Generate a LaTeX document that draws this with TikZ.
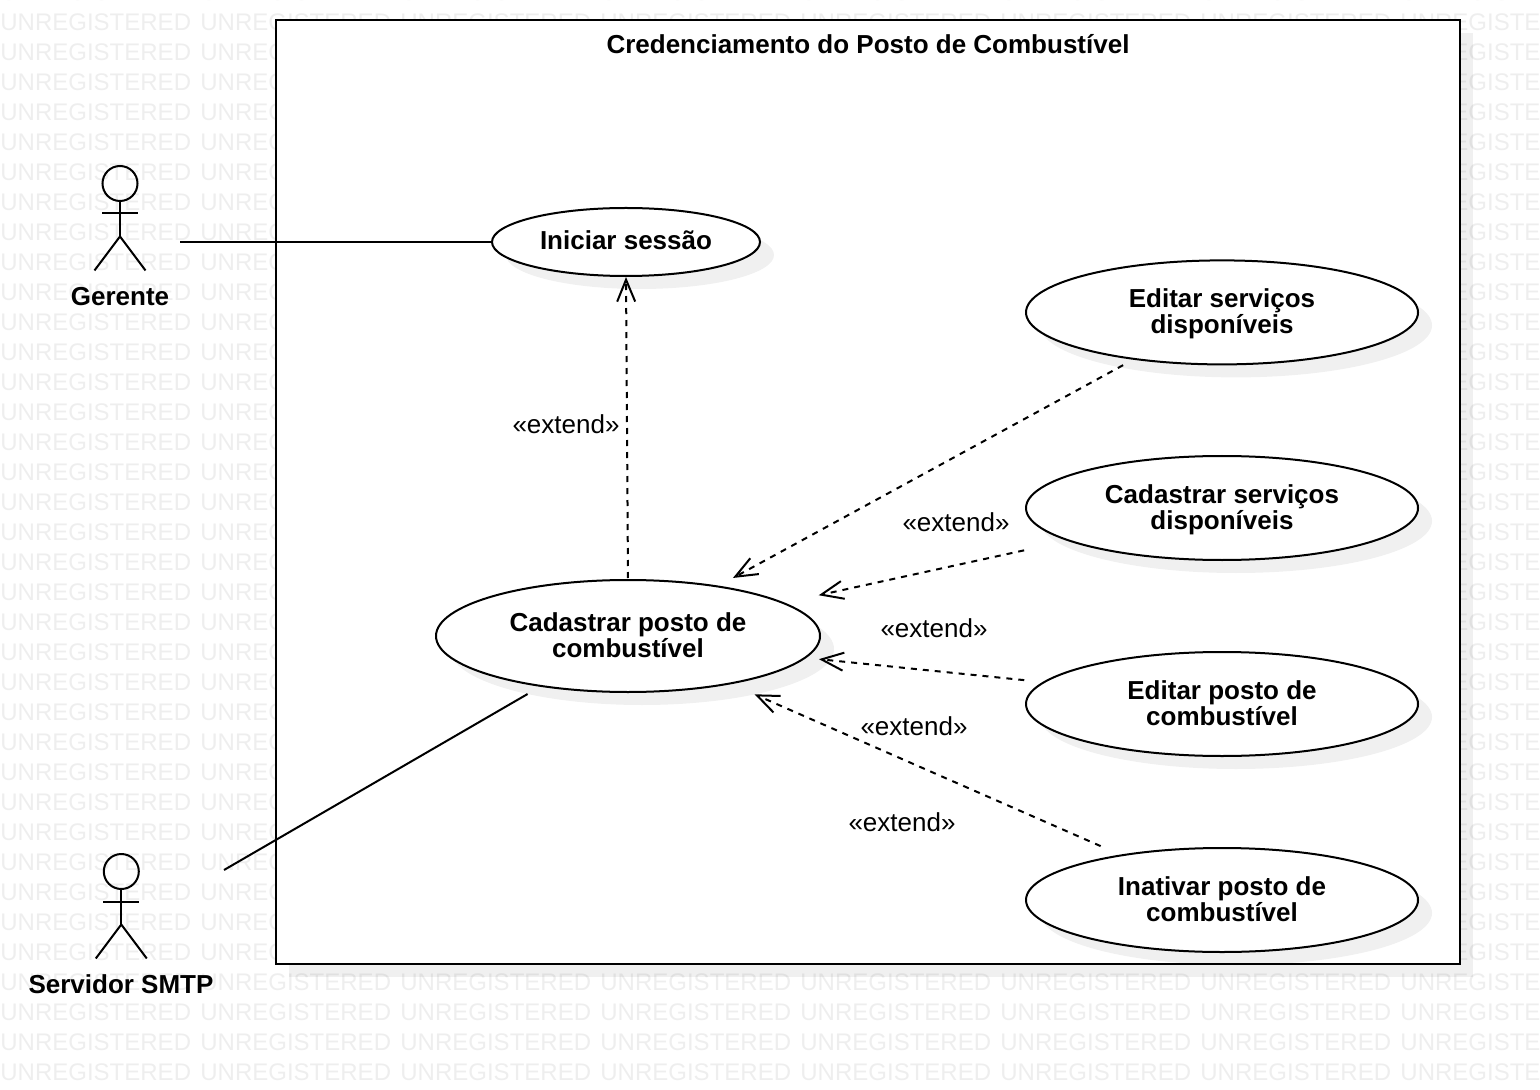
\documentclass[tikz,border=0pt]{standalone}
\usepackage{fontspec}
\setmainfont{Liberation Sans}
\usetikzlibrary{arrows.meta,shadows,shapes.geometric}
\definecolor{marca}{HTML}{EEEEEE}
\newcommand{\linhas}[2]{\rule{0pt}{12pt}#1\\#2\rule[-4pt]{0pt}{4pt}}
\tikzset{
  caso/.style={ellipse,draw,fill=white,line width=1pt,inner sep=0pt,outer sep=0pt,align=center,
    font=\fontsize{13}{13}\selectfont\bfseries,
    general shadow={shadow xshift=7pt,shadow yshift=-6.5pt,fill=black,opacity=.06}},
  sistema/.style={rectangle,draw,fill=white,line width=1pt,inner sep=0pt,outer sep=0pt,
    general shadow={shadow xshift=6.5pt,shadow yshift=-6.5pt,fill=black,opacity=.06}},
  nome/.style={inner sep=0pt,anchor=base,font=\fontsize{13}{13}\selectfont\bfseries},
  rotulo/.style={inner sep=0pt,anchor=base,font=\fontsize{13}{13}\selectfont},
  marcador/.style={inner sep=0pt,anchor=base west,text=marca,font=\fontsize{12}{12}\selectfont},
  assoc/.style={line width=1pt},
  extensao/.style={line width=1pt,dash pattern=on 3pt off 3pt,-{Straight Barb[length=11pt,width=9pt]}}
}
\begin{document}
\begin{tikzpicture}[x=0.5pt,y=-0.5pt]
  \useasboundingbox (0,0) rectangle (1540,1090);
  \begin{scope}
    \clip (0,0) rectangle (1540,1090);
    \foreach \y in {0,30,...,1080}
      \foreach \x in {0,200,...,1400}
        \node[marcador] (marca-\x-\y) at (\x,\y+0.5) {UNREGISTERED};
  \end{scope}
  \node[sistema,minimum width=592pt,minimum height=472pt] (limite) at (868,492) {};
  \node[nome] (titulo) at (868,54) {Credenciamento do Posto de Combustível};
  \node[caso,minimum width=134pt,minimum height=34pt] (iniciar) at (626,242) {\rule[-2pt]{0pt}{12pt}Iniciar sessão};
  \node[caso,minimum width=192pt,minimum height=56pt] (cadPosto) at (628,636) {\linhas{Cadastrar posto de}{combustível}};
  \node[caso,minimum width=196pt,minimum height=52pt] (edServ) at (1222,312.4) {\linhas{Editar serviços}{disponíveis}};
  \node[caso,minimum width=196pt,minimum height=52pt] (cadServ) at (1222,508) {\linhas{Cadastrar serviços}{disponíveis}};
  \node[caso,minimum width=196pt,minimum height=52pt] (edPosto) at (1222,704) {\linhas{Editar posto de}{combustível}};
  \node[caso,minimum width=196pt,minimum height=52pt] (inPosto) at (1222,900) {\linhas{Inativar posto de}{combustível}};
  \foreach \ator/\x/\y in {gerente/120/183.5,servidor/121.3/871.5}{
    \begin{scope}[shift={(\x,\y)}]
      \node[circle,draw,line width=1pt,minimum size=17.5pt,inner sep=0pt,outer sep=0pt] (\ator Cabeca) at (0,0) {};
      \coordinate (\ator Quadril) at (0,53);
      \draw[assoc] (\ator Cabeca.south) -- (\ator Quadril) (-18,30) -- (18,30);
      \draw[assoc] (-25.5,87) -- (\ator Quadril) -- (25.5,87);
    \end{scope}
  }
  \node[nome] (gerente) at (120,306) {Gerente};
  \node[nome] (servidor) at (121,993) {Servidor SMTP};
  \coordinate (gerenteFim) at (180,242);
  \coordinate (servidorFim) at (224,870);
  \draw[assoc] (gerenteFim) -- (iniciar.west);
  \draw[assoc,shorten >=8pt] (servidorFim) -- (cadPosto.210.1);
  \draw[extensao,shorten <=1pt,shorten >=0.5pt] (cadPosto.north) -- (iniciar.south);
  \draw[extensao,shorten <=6.5pt,shorten >=8.85pt] (edServ.208.7) -- (cadPosto.29);
  \draw[extensao,shorten <=23pt,shorten >=18.2pt] (cadServ.192) -- (cadPosto.12.8);
  \draw[extensao,shorten <=10pt,shorten >=7pt] (edPosto.173.7) -- (cadPosto.353.9);
  \draw[extensao,shorten <=11.5pt,shorten >=13.5pt] (inPosto.156.1) -- (cadPosto.335.7);
  \foreach \rot/\x/\y in {extA/566/434,extB/956/531,extC/934/637,extD/914/735,extE/902/831}
    \node[rotulo] (\rot) at (\x,\y) {«extend»};
\end{tikzpicture}
\end{document}
